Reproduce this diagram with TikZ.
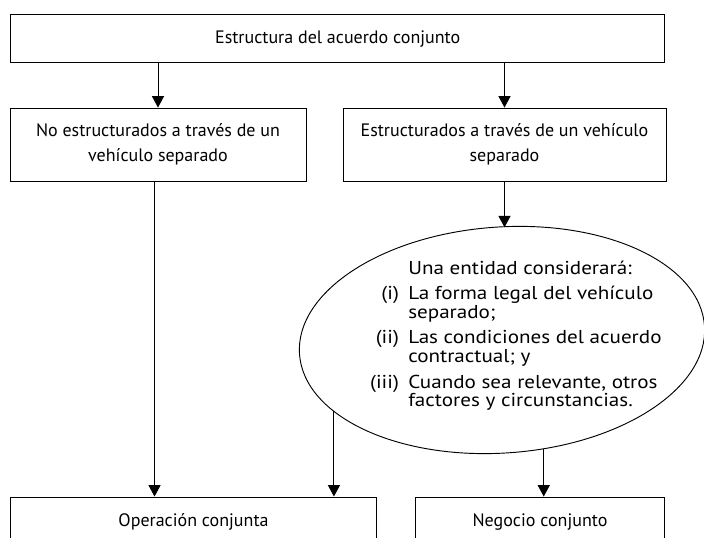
\documentclass[tikz,border=0pt]{standalone}
\usepackage{fontspec}
\setmainfont{PT Sans}
\newfontfamily\elipsefont{PT Sans}[FakeStretch=1.13]
\usetikzlibrary{shapes.geometric,arrows.meta}
\tikzstyle{caja}=[draw=black,line width=0.7pt,align=center,inner sep=0pt,font=\fontsize{13.5}{18.75}\selectfont]
\tikzstyle{flecha}=[-{Triangle[length=8.5pt,width=9pt]},line width=0.7pt]

\begin{document}
\begin{tikzpicture}[x=0.75pt,y=-0.75pt]
    \useasboundingbox (0,0) rectangle (704,538);
    \clip (0,0) rectangle (704,538);
    \node[caja,minimum width=490.5pt,minimum height=36pt] (estructura) at (337.7,38.7) {Estructura del acuerdo conjunto};
    \node[caja,minimum width=222pt,minimum height=54.75pt] (noestr) at (158,144.5) {No estructurados a través de un\\vehículo separado};
    \node[caja,minimum width=242.25pt,minimum height=54.75pt] (estr) at (504.5,144.5) {Estructurados a través de un vehículo\\separado};
    \node[draw=black,line width=0.7pt,ellipse,minimum width=304.5pt,minimum height=169.5pt,inner sep=0pt,outer sep=0pt,rotate=4] (elipse) at (502,340) {};
    \node[anchor=base west,inner sep=0pt,font=\elipsefont\fontsize{14}{13.8}\selectfont] (texto) at (356,274.3) {\begin{tabular}[t]{@{}r@{\hspace{7pt}}l@{}}
        \makebox[32pt]{} & Una entidad considerará:\\[5pt]
        (i) & La forma legal del vehículo\\
        & separado;\\[5pt]
        (ii) & Las condiciones del acuerdo\\
        & contractual; y\\[5pt]
        (iii) & Cuando sea relevante, otros\\
        & factores y circunstancias.
    \end{tabular}};
    \node[caja,minimum width=274.2pt,minimum height=37.5pt] (operacion) at (193.5,522) {Operación conjunta};
    \node[caja,minimum width=187pt,minimum height=37.5pt] (negocio) at (540,522) {Negocio conjunto};
    % flechas
    \draw[flecha] (estructura.south -| noestr.north) -- (noestr.north);
    \draw[flecha] (estructura.south -| estr.north) -- (estr.north);
    \draw[flecha] (estr.south) -- (estr.south |- elipse.north);
    \draw[flecha] ([xshift=-2.6pt]noestr.south) -- ([xshift=-2.6pt]noestr.south |- operacion.north);
    \draw[flecha] (elipse.199) -- (elipse.199 |- operacion.north);
    \draw[flecha] (elipse.287) -- (elipse.287 |- negocio.north);
\end{tikzpicture}
\end{document}
